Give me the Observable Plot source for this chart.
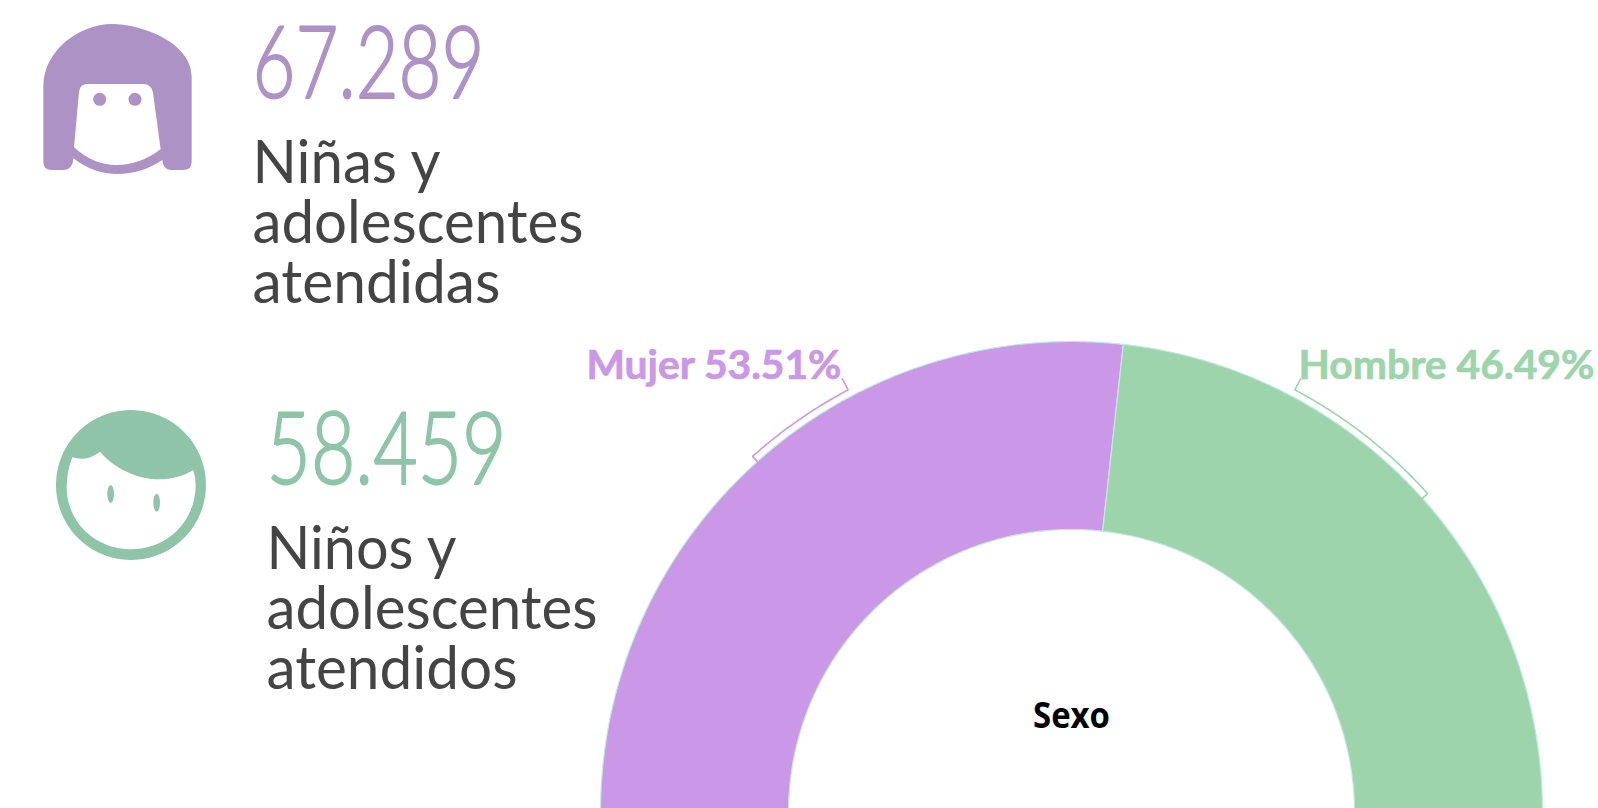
<!DOCTYPE html>
<html lang="es">
<head>
<meta charset="utf-8">
<title>Niñas, niños y adolescentes atendidos</title>
<script src="https://cdn.jsdelivr.net/npm/d3@7"></script>
<script src="https://cdn.jsdelivr.net/npm/@observablehq/plot@0.6"></script>
<style>
html,body{margin:0;padding:0;background:#fff;overflow:hidden}
svg{display:block}
</style>
</head>
<body>
<div id="chart"></div>
<script>
// ---- data ----
const sexCategories = ["Mujer", "Hombre"];
const sexShares = [53.51, 46.49];
const sexColors = ["#ca98e6", "#9dd4ac"];
const sexLabels = ["Mujer 53.51%", "Hombre 46.49%"];
const centerLabel = "Sexo";
const totals = ["67.289", "58.459"];
const totalColors = ["#ad92c6", "#8fc4a9"];
const girlLines = ["Niñas y", "adolescentes", "atendidas"];
const boyLines = ["Niños y", "adolescentes", "atendidos"];

// ---- layout ----
const W = 1598, H = 808;
const cx = 1071, cy = 812, R = 471, r = 283;
const bracketR = 478, tickOut = 12.5, bracketEnd = 27.85;
const px = (rad, deg) => cx + rad * Math.sin(deg * Math.PI / 180);
const py = (rad, deg) => cy - rad * Math.cos(deg * Math.PI / 180);

// slices over a half circle, -90° to +90°, from the shares
const total = d3.sum(sexShares);
let acc = -90;
const spans = sexCategories.map((c, i) => {
  const a0 = acc; acc += sexShares[i] / total * 180;
  return {c, a0, a1: acc, mid: (a0 + acc) / 2};
});
const slices = spans.flatMap(({c, a0, a1}) => {
  const angles = d3.range(a0, a1, 0.5).concat(a1);
  return [
    ...angles.map(a => ({c, x: px(R, a), y: py(R, a)})),
    ...angles.reverse().map(a => ({c, x: px(r, a), y: py(r, a)}))
  ];
});
const brackets = spans.flatMap(({c, mid}, i) => {
  const end = i === 0 ? -bracketEnd : bracketEnd;
  const step = (end - mid) / 40;
  const arc = d3.range(41).map(k => mid + k * step);
  return [
    {c, x: px(R, mid), y: py(R, mid)},
    ...arc.map(a => ({c, x: px(bracketR, a), y: py(bracketR, a)})),
    {c, x: px(bracketR + tickOut, end), y: py(bracketR + tickOut, end)}
  ];
});

// text placement
const bodyRows = [
  {t: girlLines.join("\n"), x: 252, y: 302},
  {t: boyLines.join("\n"), x: 266, y: 688}
];
const totalRows = [
  {t: totals[0], x: 252, y: 97, f: totalColors[0]},
  {t: totals[1], x: 266, y: 483, f: totalColors[1]}
];
const labelRows = [
  {t: sexLabels[0], x: 586, y: 378, f: sexColors[0]},
  {t: sexLabels[1], x: 1298, y: 378, f: sexColors[1]}
];
// widths measured on the reference, to fit the substitute fonts
const widths = new Map([
  [girlLines[0], 188], [girlLines[1], 331], [girlLines[2], 248],
  [boyLines[0], 190], [boyLines[2], 251],
  [totals[0], 232], [totals[1], 240],
  [sexLabels[0], 255], [sexLabels[1], 296],
  [centerLabel, 77]
]);

// face icons drawn in their own little coordinate box
const girlIcon = (index, s, v, dim, ctx) => {
  const g = d3.select(ctx.document.createElementNS("http://www.w3.org/2000/svg", "g"))
    .attr("transform", "translate(30,10) scale(0.3333)").attr("fill", totalColors[0]);
  g.append("path").attr("fill-rule", "evenodd").attr("d",
    "M245 42C330 42 485 95 485 200L485 455Q485 480 460 480L422 480Q400 480 397 450" +
    "Q335 492 262 492Q190 492 130 445Q128 480 100 480L65 480Q40 480 40 455L40 230C40 120 150 42 245 42Z" +
    "M172 222L340 222Q364 222 369 248L392 418Q330 465 258 465Q190 465 132 412L147 245Q150 222 172 222Z");
  g.append("circle").attr("cx", 209).attr("cy", 268).attr("r", 19.5);
  g.append("circle").attr("cx", 315).attr("cy", 268).attr("r", 19.5);
  return g.node();
};
const boyIcon = (index, s, v, dim, ctx) => {
  const g = d3.select(ctx.document.createElementNS("http://www.w3.org/2000/svg", "g"))
    .attr("transform", "translate(40,400) scale(0.3333)").attr("fill", totalColors[1]);
  g.append("path").attr("fill-rule", "evenodd").attr("d",
    "M273 30A225 225 0 1 1 272.9 30Z" +
    "M97 172Q140 186 180 155C250 235 370 265 460 210Q467 235 467 255" +
    "C467 365 380 448 273 448C165 448 80 365 80 262Q80 215 97 172Z");
  g.append("ellipse").attr("cx", 212).attr("cy", 282).attr("rx", 10).attr("ry", 27);
  g.append("ellipse").attr("cx", 350).attr("cy", 308).attr("rx", 10).attr("ry", 27);
  return g.node();
};

const chart = Plot.plot({
  width: W, height: H,
  margin: 0,
  x: {type: "identity", axis: null},
  y: {type: "identity", axis: null},
  color: {domain: sexCategories, range: sexColors},
  style: {background: "#fff", overflow: "hidden"},
  marks: [
    girlIcon,
    boyIcon,
    Plot.line(slices, {x: "x", y: "y", z: "c", fill: "c", stroke: "#c4e8e2", strokeWidth: 1.2, curve: "linear-closed"}),
    Plot.line(brackets, {x: "x", y: "y", z: "c", stroke: "c", strokeWidth: 1.6, strokeLinejoin: "miter"}),
    Plot.text(totalRows, {x: "x", y: "y", text: "t", fill: "f", stroke: "f", strokeWidth: 2, textAnchor: "start", lineAnchor: "bottom",
      fontFamily: "Lato,sans-serif", fontWeight: 300, fontSize: 100}),
    Plot.text(bodyRows, {x: "x", y: "y", text: "t", fill: "#444444", textAnchor: "start", lineAnchor: "bottom",
      lineHeight: 1, fontFamily: "Lato,sans-serif", fontSize: 60}),
    Plot.text(labelRows, {x: "x", y: "y", text: "t", fill: "f", stroke: "f", strokeWidth: 0.7, textAnchor: "start", lineAnchor: "bottom",
      fontFamily: "Lato,sans-serif", fontWeight: 700, fontSize: 40}),
    Plot.text([centerLabel], {x: [cx], y: [727], text: d => d, fill: "#000", textAnchor: "middle", lineAnchor: "bottom",
      fontFamily: "'Open Sans',sans-serif", fontWeight: 700, fontSize: 35})
  ]
});

chart.querySelectorAll("text, tspan").forEach(t => {
  if (t.querySelector("tspan")) return;
  const w = widths.get(t.textContent);
  if (w) {
    t.setAttribute("textLength", w);
    t.setAttribute("lengthAdjust", "spacingAndGlyphs");
  }
});
document.getElementById("chart").append(chart);
</script>
</body>
</html>
